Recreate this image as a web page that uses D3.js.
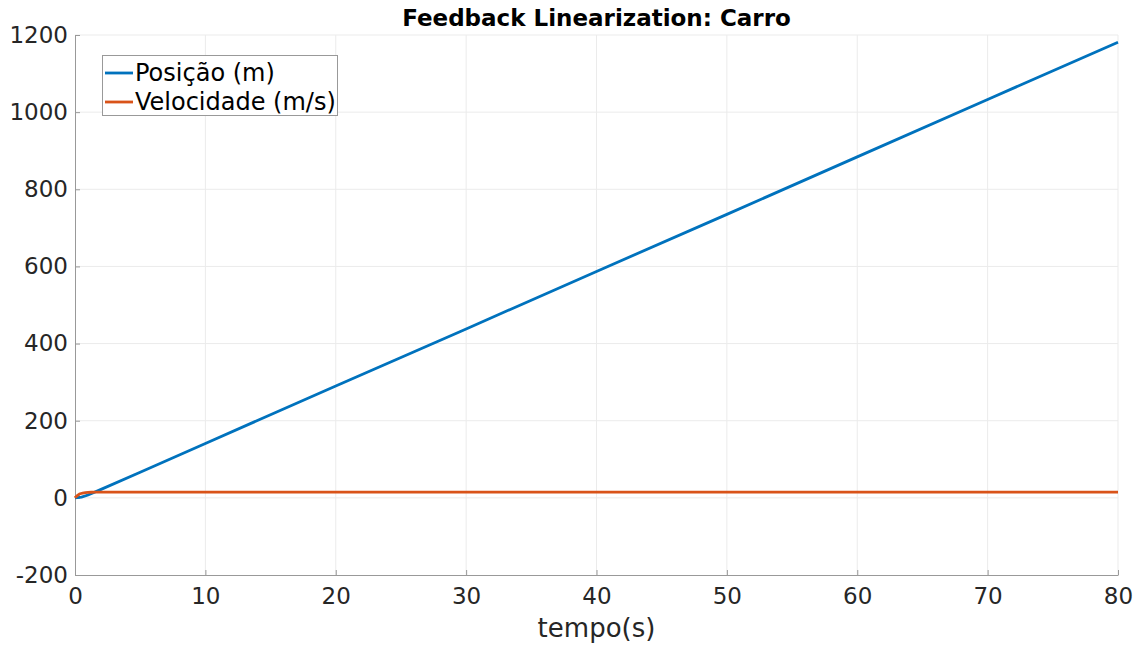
<!DOCTYPE html>
<html><head><meta charset="utf-8">
<script src="https://cdn.jsdelivr.net/npm/d3@7"></script>
<style>body{margin:0;background:#fff}svg text{font-family:"DejaVu Sans",sans-serif;}</style>
</head><body>
<svg id="c" width="1140" height="645"></svg>
<script>
const xTicks = [0,10,20,30,40,50,60,70,80];
const yTicks = [-200,0,200,400,600,800,1000,1200];
const posT = [0,0.5,1,2,5,10,20,30,40,50,60,70,80];
const posV = [0,2,7.5,22,66.5,141,290,438,587,735,884,1033,1181];
const velT = [0,0.1,0.2,0.3,0.4,0.6,0.8,1.0,1.3,1.6,2,5,10,20,40,60,80];
const velV = [0,3.5,6.5,8.8,10.5,12.5,13.7,14.3,14.6,14.75,14.8,14.8,14.8,14.8,14.8,14.8,14.8];
const seriesNames = ["Posição (m)","Velocidade (m/s)"];
const colors = ["#0072BD","#D95319"];

const svg = d3.select("#c");
const L=75,R=1118,T=35,B=575;
const x = d3.scaleLinear().domain([0,80]).range([L,R]);
const y = d3.scaleLinear().domain([-200,1200]).range([B,T]);
const fmt = d => String(d);

// grid
svg.append("g").selectAll("line").data(xTicks.slice(1)).join("line")
  .attr("x1",d=>x(d)).attr("x2",d=>x(d)).attr("y1",T).attr("y2",B)
  .attr("stroke","#ebebeb").attr("stroke-width",1);
svg.append("g").selectAll("line").data(yTicks.slice(1)).join("line")
  .attr("x1",L).attr("x2",R).attr("y1",d=>y(d)).attr("y2",d=>y(d))
  .attr("stroke","#ebebeb").attr("stroke-width",1);

// axes
const xa = svg.append("g").attr("transform",`translate(0,${B})`)
  .call(d3.axisBottom(x).tickValues(xTicks).tickFormat(fmt).tickSizeInner(-5).tickSizeOuter(0).tickPadding(13));
const ya = svg.append("g").attr("transform",`translate(${L},0)`)
  .call(d3.axisLeft(y).tickValues(yTicks).tickFormat(fmt).tickSizeInner(-5).tickSizeOuter(0).tickPadding(7));
[xa,ya].forEach(a=>{
  a.select(".domain").attr("stroke","#999");
  a.selectAll(".tick line").attr("stroke","#999");
  a.selectAll("text").attr("fill","#262626").style("font-size","23px");
});
xa.selectAll("text").attr("dy","0.71em");

// lines
const line = d3.line().x(d=>x(d[0])).y(d=>y(d[1]));
svg.append("path").datum(posT.map((t,i)=>[t,posV[i]]))
  .attr("d",line).attr("fill","none").attr("stroke",colors[0]).attr("stroke-width",2.8);
svg.append("path").datum(velT.map((t,i)=>[t,velV[i]]))
  .attr("d",d3.line().curve(d3.curveMonotoneX).x(d=>x(d[0])).y(d=>y(d[1])))
  .attr("fill","none").attr("stroke",colors[1]).attr("stroke-width",2.8);

// title and label
svg.append("text").attr("x",(L+R)/2).attr("y",26).attr("text-anchor","middle")
  .style("font-size","23px").style("font-weight","bold").attr("fill","#000")
  .text("Feedback Linearization: Carro");
svg.append("text").attr("x",(L+R)/2).attr("y",637).attr("text-anchor","middle")
  .style("font-size","26px").attr("fill","#262626").text("tempo(s)");

// legend
const lg = svg.append("g");
lg.append("rect").attr("x",102.5).attr("y",55.5).attr("width",235).attr("height",60)
  .attr("fill","#fff").attr("stroke","#999").attr("stroke-width",1);
seriesNames.forEach((n,i)=>{
  const yy = 73 + i*29;
  lg.append("line").attr("x1",105).attr("x2",133).attr("y1",yy).attr("y2",yy)
    .attr("stroke",colors[i]).attr("stroke-width",2.8);
  lg.append("text").attr("x",135).attr("y",yy).attr("dy","0.35em")
    .style("font-size","24px").attr("fill","#000").text(n);
});
</script>
</body></html>
